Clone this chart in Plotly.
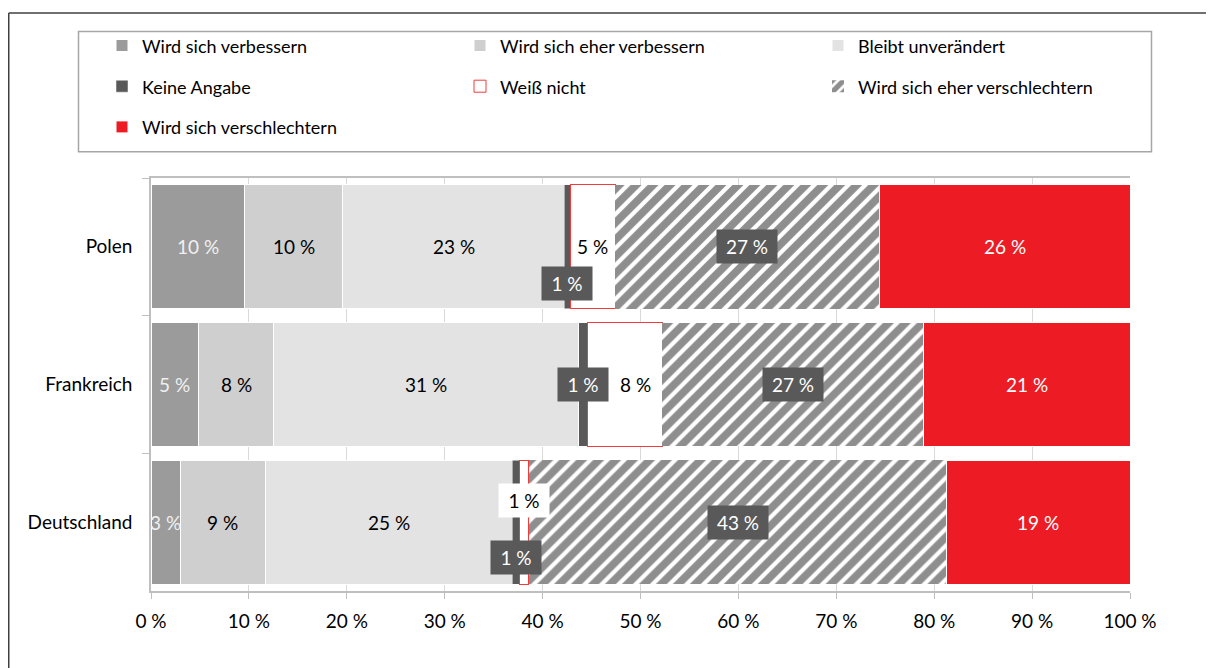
import plotly.graph_objects as go

# ---------------- data ----------------
categories = ["Polen", "Frankreich", "Deutschland"]
series_names = [
    "Wird sich verbessern",
    "Wird sich eher verbessern",
    "Bleibt unverändert",
    "Keine Angabe",
    "Weiß nicht",
    "Wird sich eher verschlechtern",
    "Wird sich verschlechtern",
]
verbessern = [9.6, 4.9, 3.0]
eher_verbessern = [10.0, 7.6, 8.7]
unveraendert = [22.6, 31.2, 25.2]
keine_angabe = [0.6, 0.9, 0.7]
weiss_nicht = [4.6, 7.6, 1.0]
eher_verschlechtern = [27.0, 26.7, 42.7]
verschlechtern = [25.6, 21.1, 18.7]
series_values = [verbessern, eher_verbessern, unveraendert, keine_angabe,
                 weiss_nicht, eher_verschlechtern, verschlechtern]
x_tick_values = [0, 10, 20, 30, 40, 50, 60, 70, 80, 90, 100]
x_tick_labels = ["0 %", "10 %", "20 %", "30 %", "40 %", "50 %",
                 "60 %", "70 %", "80 %", "90 %", "100 %"]

# ---------------- styles ----------------
FONT = "Lato"
W, H = 1214, 668
OFF = 8  # page body margin
# plot area in screen pixels
SL, SR, ST, SB = 151, 1130, 175, 591

bar_styles = [
    dict(color="#9b9b9b", line=dict(color="white", width=1)),
    dict(color="#cfcfcf", line=dict(color="white", width=1)),
    dict(color="#e3e3e3", line=dict(color="white", width=1)),
    dict(color="#595959", line=dict(color="white", width=0.5)),
    dict(color="white", line=dict(color="#f03c3c", width=1)),
    dict(color="white", line=dict(color="white", width=0),
         pattern=dict(shape="/", fgcolor="#1e1e1e", bgcolor="white",
                      size=12, solidity=0.65)),
    dict(color="#ed1c24", line=dict(color="white", width=1)),
]
label_styles = [
    dict(color="#f0f0f0", bg=None),
    dict(color="black", bg=None),
    dict(color="black", bg=None),
    dict(color="white", bg="#595959"),
    dict(color="black", bg=None),
    dict(color="white", bg="#595959"),
    dict(color="white", bg=None),
]
# label nudges (pixels) for crowded segments: (series index, category) -> (xshift, yshift, bg)
label_nudges = {
    (3, "Polen"): (0, -37, None),
    (3, "Deutschland"): (0, -35, None),
    (4, "Frankreich"): (11, 0, None),
    (4, "Deutschland"): (0, 22, "white"),
}


def px_x(p):
    return (p - SL) / (SR - SL)


def px_y(p):
    return (SB - p) / (SB - ST)


fig = go.Figure()
for name, vals, st in zip(series_names, series_values, bar_styles):
    fig.add_trace(go.Bar(
        y=categories, x=vals,
        name=f'<span style="font-size:18px;baseline-shift:4px">{name}</span>',
        orientation="h", marker=st, hoverinfo="x+y",
    ))

annotations = []
starts = [0.0] * len(categories)
for si, vals in enumerate(series_values):
    for ci, cat in enumerate(categories):
        v = vals[ci]
        center = starts[ci] + v / 2
        starts[ci] += v
        ls = label_styles[si]
        xs, ys, bg = label_nudges.get((si, cat), (0, 0, None))
        bgc = bg or ls["bg"]
        txt = f"{round(v)} %"
        ann = dict(
            x=center, y=cat, xref="x", yref="y", text=txt,
            showarrow=False, xshift=xs, yshift=ys,
            font=dict(family=FONT, size=19, color=ls["color"]),
        )
        if bgc:
            ann.update(bgcolor=bgc, borderpad=4,
                       width=42 + 10 * (len(txt) - 3), height=25)
        annotations.append(ann)

shapes = [
    # outer frame (top and left edges)
    dict(type="line", xref="paper", yref="paper", x0=px_x(OFF + 0.75), x1=px_x(W + 20),
         y0=px_y(OFF + 0.75), y1=px_y(OFF + 0.75), line=dict(color="#404040", width=1.5)),
    dict(type="line", xref="paper", yref="paper", x0=px_x(OFF + 0.75), x1=px_x(OFF + 0.75),
         y0=px_y(OFF + 0.75), y1=px_y(H + 20), line=dict(color="#404040", width=1.5)),
    # legend frame
    dict(type="rect", xref="paper", yref="paper", x0=px_x(78.5), x1=px_x(1151.5),
         y0=px_y(27.5), y1=px_y(148.5), line=dict(color="#a6a6a6", width=1.5)),
]

fig.update_layout(
    width=W, height=H,
    margin=dict(l=SL - OFF, r=W - (SR - OFF), t=ST - OFF, b=H - (SB - OFF), pad=0),
    paper_bgcolor="white", plot_bgcolor="white",
    barmode="stack", bargap=0.1,
    font=dict(family=FONT, size=19, color="black"),
    showlegend=True,
    legend=dict(
        orientation="h", x=px_x(102), xanchor="left", y=px_y(16), yanchor="top",
        font=dict(family=FONT, size=29, color="black"),
        entrywidth=313, bgcolor="rgba(0,0,0,0)", borderwidth=0,
        traceorder="normal",
    ),
    xaxis=dict(
        range=[0, 100], tickvals=x_tick_values, ticktext=x_tick_labels,
        showgrid=True, gridcolor="#d9d9d9", gridwidth=1,
        showline=True, linecolor="#bfbfbf", linewidth=1.5, mirror=True,
        ticks="outside", ticklen=6, tickcolor="#bfbfbf",
        ticklabelstandoff=6, zeroline=False,
        tickfont=dict(family=FONT, size=19, color="black"),
    ),
    yaxis=dict(
        autorange="reversed", showgrid=False,
        showline=True, linecolor="#bfbfbf", linewidth=1.5,
        ticks="outside", ticklen=7, tickcolor="#bfbfbf", tickson="boundaries",
        ticklabelstandoff=13,
        tickfont=dict(family=FONT, size=19, color="black"),
    ),
    annotations=annotations,
    shapes=shapes,
)

fig.write_html("out.html")
